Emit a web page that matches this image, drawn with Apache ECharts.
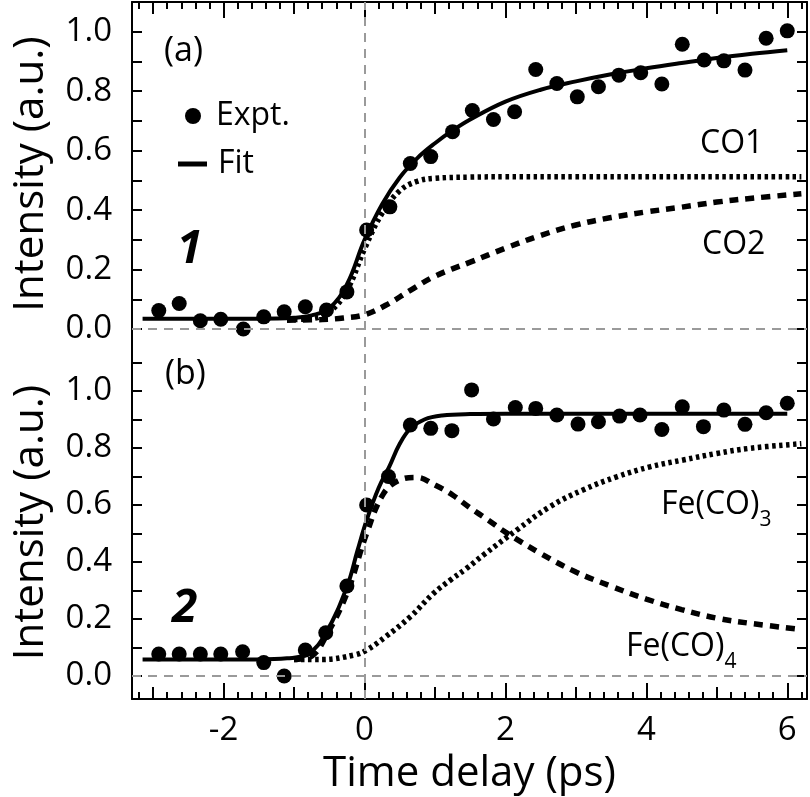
<!DOCTYPE html>
<html><head><meta charset="utf-8">
<script src="https://cdn.jsdelivr.net/npm/echarts@6/dist/echarts.min.js"></script>
<style>html,body{margin:0;padding:0;background:#fff}#c{width:810px;height:797px}</style>
</head><body><div id="c"></div>
<script>
// ---- Data ----
const timeA = [-2.92,-2.63,-2.33,-2.04,-1.72,-1.43,-1.14,-0.84,-0.54,-0.25,0.03,0.36,0.65,0.94,1.25,1.53,1.83,2.13,2.43,2.73,3.02,3.32,3.61,3.92,4.22,4.51,4.82,5.10,5.40,5.70,6.00];
const exptA = [0.062,0.086,0.028,0.033,0.0,0.041,0.058,0.075,0.064,0.125,0.333,0.411,0.557,0.58,0.664,0.735,0.705,0.731,0.873,0.826,0.781,0.815,0.854,0.862,0.824,0.958,0.905,0.902,0.871,0.978,1.003];
const fitAx = [-3.15,-1.5,-1.0,-0.75,-0.5,-0.25,0,0.25,0.5,0.75,1.0,1.25,1.5,2.0,2.5,3.0,3.5,4.0,4.5,5.0,5.5,6.0];
const fitAy = [0.035,0.035,0.038,0.046,0.07,0.15,0.30,0.42,0.51,0.575,0.625,0.668,0.705,0.765,0.805,0.833,0.857,0.877,0.895,0.912,0.926,0.938];
const co1x = [-1.1,-0.8,-0.5,-0.25,0,0.25,0.5,0.75,1.0,1.5,2.0,3.0,4.0,5.0,6.2];
const co1y = [0.032,0.034,0.058,0.13,0.27,0.39,0.465,0.497,0.507,0.511,0.512,0.512,0.512,0.512,0.512];
const co2x = [-1.1,-0.6,-0.3,0,0.3,0.65,1.0,1.5,2.0,2.5,3.0,3.5,4.0,4.5,5.0,5.5,6.2];
const co2y = [0.03,0.032,0.037,0.048,0.08,0.13,0.178,0.225,0.272,0.315,0.35,0.375,0.394,0.41,0.427,0.44,0.455];

const timeB = [-2.92,-2.63,-2.33,-2.04,-1.73,-1.43,-1.14,-0.84,-0.55,-0.25,0.03,0.34,0.65,0.94,1.24,1.52,1.83,2.14,2.43,2.73,3.03,3.32,3.62,3.91,4.22,4.51,4.81,5.10,5.40,5.70,6.00];
const exptB = [0.077,0.077,0.077,0.077,0.085,0.047,0.0,0.091,0.152,0.316,0.60,0.70,0.881,0.869,0.861,1.004,0.902,0.942,0.939,0.916,0.884,0.892,0.912,0.916,0.865,0.945,0.875,0.933,0.883,0.924,0.957];
const fitBx = [-3.15,-1.5,-1.1,-0.8,-0.55,-0.25,-0.1,0.03,0.2,0.35,0.5,0.65,0.85,1.1,1.5,2.0,6.0];
const fitBy = [0.058,0.058,0.062,0.078,0.15,0.313,0.44,0.547,0.66,0.734,0.815,0.868,0.9,0.914,0.919,0.92,0.92];
const fe4x = [-1.0,-0.75,-0.55,-0.25,0.03,0.27,0.5,0.74,1.0,1.25,1.5,1.75,2.0,2.5,3.0,3.5,4.0,4.5,5.0,5.5,6.2];
const fe4y = [0.058,0.07,0.138,0.29,0.50,0.64,0.688,0.697,0.67,0.635,0.59,0.548,0.505,0.43,0.365,0.315,0.27,0.233,0.203,0.184,0.163];
const fe3x = [-1.0,-0.6,-0.14,0.03,0.3,0.65,0.98,1.22,1.45,1.69,2.16,2.63,3.1,3.58,4.05,4.52,5.0,5.47,6.2];
const fe3y = [0.058,0.058,0.074,0.091,0.138,0.208,0.29,0.337,0.378,0.425,0.512,0.594,0.653,0.699,0.734,0.758,0.781,0.799,0.815];

const xMajorTicks = [-2,0,2,4,6];
const xMidTicks = [-3,-1,1,3,5];
const xMinorTicks = []; for (let i = -16; i <= 31; i++) xMinorTicks.push(+(i*0.2).toFixed(1));
const yLabelVals = [0,0.2,0.4,0.6,0.8,1.0];
const yTicksA = [0,0.1,0.2,0.3,0.4,0.5,0.6,0.7,0.8,0.9,1.0];
const yTicksB = [0,0.1,0.2,0.3,0.4,0.5,0.6,0.7,0.8,0.9,1.0,1.1];

const FONT = 'Open Sans';
const pair = (xs, ys) => xs.map((x, i) => [x, ys[i]]);

const XMIN = -3.3, XMAX = 6.28;
function xAxes(gridIndex, pos, withLabels) {
  const base = {type:'value', gridIndex, position:pos, min:XMIN, max:XMAX, splitLine:{show:false}};
  const mk = (vals, len, line, labels) => Object.assign({}, base, {
    axisLine:{show:line, onZero:false, lineStyle:{color:'#000', width:2}},
    axisTick:{show:true, inside:true, length:len, customValues:vals, lineStyle:{color:'#000', width:2}},
    axisLabel: labels ? {show:true, customValues:xMajorTicks, fontFamily:FONT, fontSize:33, color:'#000', margin:15} : {show:false},
    name: labels ? 'Time delay (ps)' : '',
    nameLocation:'middle', nameGap:54,
    nameTextStyle:{fontFamily:FONT, fontSize:42, color:'#000'}
  });
  return [mk(xMajorTicks, 16, true, withLabels), mk(xMidTicks, 12, false, false), mk(xMinorTicks, 7, false, false)];
}
function yAxes(gridIndex, min, max, ticks) {
  return [
    {type:'value', gridIndex, position:'left', min, max, splitLine:{show:false},
     axisLine:{show:true, onZero:false, lineStyle:{color:'#000', width:2}},
     axisTick:{show:true, inside:true, length:10, customValues:ticks, lineStyle:{color:'#000', width:2}},
     axisLabel:{show:true, customValues:yLabelVals, formatter:v=>v.toFixed(1), fontFamily:FONT, fontSize:33, color:'#000', margin:20},
     name:'Intensity (a.u.)', nameLocation:'middle', nameGap:80,
     nameTextStyle:{fontFamily:FONT, fontSize:42, color:'#000'}},
    {type:'value', gridIndex, position:'right', min, max, splitLine:{show:false},
     axisLine:{show:true, onZero:false, lineStyle:{color:'#000', width:2}},
     axisTick:{show:true, inside:true, length:10, customValues:ticks, lineStyle:{color:'#000', width:2}},
     axisLabel:{show:false}}
  ];
}
const refLines = {
  silent:true, symbol:'none', label:{show:false},
  lineStyle:{color:'#9a9a9a', width:2, type:[9,7]},
  data:[{xAxis:0}, {yAxis:0}]
};
const dotted = {color:'#000', width:5.5, type:[3.5,3.5], cap:'butt'};
const dashed = {color:'#000', width:5.5, type:[9,7], cap:'butt'};
const solid = {color:'#000', width:4};

const option = {
  animation:false,
  backgroundColor:'#fff',
  grid:[
    {left:132, right:3, top:2, height:344, outerBoundsMode:'none', containLabel:false},
    {left:132, right:3, top:346, height:353, outerBoundsMode:'none', containLabel:false}
  ],
  xAxis:[...xAxes(0,'top',false), ...xAxes(1,'bottom',true)],
  yAxis:[...yAxes(0,-0.057,1.1,yTicksA), ...yAxes(1,-0.0807,1.158,yTicksB)],
  legend:[
    {data:['Expt.'], left:180, top:95, icon:'circle', itemWidth:16, itemHeight:16, selectedMode:false,
     textStyle:{fontFamily:FONT, fontSize:32, color:'#000', padding:[0,0,0,10]}},
    {data:['Fit'], left:173, top:143, icon:'rect', itemWidth:29, itemHeight:5, selectedMode:false,
     textStyle:{fontFamily:FONT, fontSize:32, color:'#000', padding:[0,0,0,6]}}
  ],
  series:[
    {name:'CO1', type:'line', xAxisIndex:0, yAxisIndex:0, data:pair(co1x,co1y), smooth:0.4, showSymbol:false, lineStyle:dotted, markLine:refLines, z:2},
    {name:'CO2', type:'line', xAxisIndex:0, yAxisIndex:0, data:pair(co2x,co2y), smooth:0.4, showSymbol:false, lineStyle:dashed, z:2},
    {name:'Fit', type:'line', xAxisIndex:0, yAxisIndex:0, data:pair(fitAx,fitAy), smooth:0.4, showSymbol:false, lineStyle:solid, itemStyle:{color:'#000'}, z:3},
    {name:'Expt.', type:'scatter', xAxisIndex:0, yAxisIndex:0, data:pair(timeA,exptA), symbolSize:15, itemStyle:{color:'#000', opacity:1}, z:4},
    {name:'Fe(CO)3', type:'line', xAxisIndex:3, yAxisIndex:2, data:pair(fe3x,fe3y), smooth:0.4, showSymbol:false, lineStyle:dotted, markLine:refLines, z:2},
    {name:'Fe(CO)4', type:'line', xAxisIndex:3, yAxisIndex:2, data:pair(fe4x,fe4y), smooth:0.4, showSymbol:false, lineStyle:dashed, z:2},
    {name:'Fit', type:'line', xAxisIndex:3, yAxisIndex:2, data:pair(fitBx,fitBy), smooth:0.4, showSymbol:false, lineStyle:solid, itemStyle:{color:'#000'}, z:3},
    {name:'Expt.', type:'scatter', xAxisIndex:3, yAxisIndex:2, data:pair(timeB,exptB), symbolSize:15, itemStyle:{color:'#000', opacity:1}, z:4}
  ],
  graphic:[
    {type:'text', left:164, top:34, style:{text:'(a)', font:`34px "${FONT}"`, fill:'#000'}},
    {type:'text', left:165, top:357, style:{text:'(b)', font:`34px "${FONT}"`, fill:'#000'}},
    {type:'text', left:177, top:227, style:{text:'1', font:`italic bold 46px "${FONT}"`, fill:'#000'}},
    {type:'text', left:172, top:586, style:{text:'2', font:`italic bold 46px "${FONT}"`, fill:'#000'}},
    {type:'text', left:700, top:128, style:{text:'CO1', font:`32px "${FONT}"`, fill:'#000'}},
    {type:'text', left:702, top:229, style:{text:'CO2', font:`32px "${FONT}"`, fill:'#000'}},
    {type:'text', left:661, top:489, style:{text:'{m|Fe(CO)}{s|3}', rich:{m:{fontFamily:FONT, fontSize:32, fill:'#000', verticalAlign:'bottom'}, s:{fontFamily:FONT, fontSize:21, fill:'#000', padding:[0,0,-10,0], verticalAlign:'bottom'}}}},
    {type:'text', left:626, top:631, style:{text:'{m|Fe(CO)}{s|4}', rich:{m:{fontFamily:FONT, fontSize:32, fill:'#000', verticalAlign:'bottom'}, s:{fontFamily:FONT, fontSize:21, fill:'#000', padding:[0,0,-10,0], verticalAlign:'bottom'}}}}
  ]
};
const chart = echarts.init(document.getElementById('c'), null, {renderer:'canvas'});
chart.setOption(option);
</script></body></html>
